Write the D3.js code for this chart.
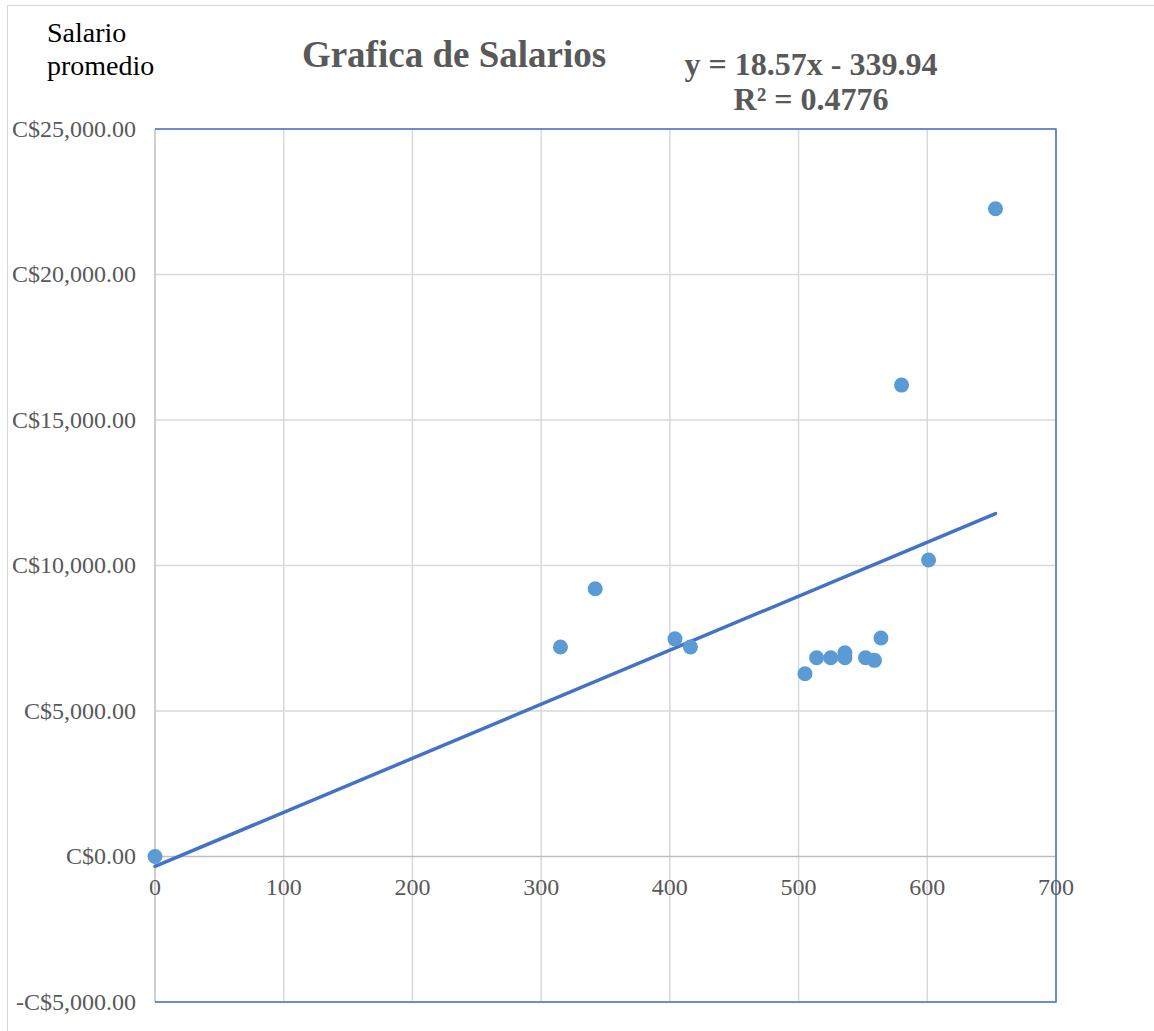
<!DOCTYPE html>
<html>
<head>
<meta charset="utf-8">
<script src="https://cdn.jsdelivr.net/npm/d3@7"></script>
<style>
  body { margin: 0; background: #fff; }
</style>
</head>
<body>
<script>
const width = 1154;
const height = 1031;
const serif = '"Liberation Serif", "Times New Roman", serif';

// horas (x) vs salario promedio (y)
const horas = [0, 315, 342, 404, 416, 505, 514, 525, 536, 536, 552, 559, 564, 580, 601, 653];
const salarios = [0, 7200, 9200, 7480, 7200, 6280, 6830, 6830, 7000, 6830, 6830, 6740, 7510, 16200, 10190, 22260];
const xTicks = [0, 100, 200, 300, 400, 500, 600, 700];
const yTicks = [-5000, 0, 5000, 10000, 15000, 20000, 25000];
const slope = 18.57;
const intercept = -339.94;

const margin = {left: 155, right: 98, top: 129, bottom: 29};

const svg = d3.select('body')
              .append('svg')
              .attr('width', width)
              .attr('height', height)
              .attr('font-family', serif);

// outer chart border
svg.append('rect')
   .attr('x', 7.5).attr('y', 5.5)
   .attr('width', width).attr('height', height)
   .attr('fill', 'none')
   .attr('stroke', '#d9d9d9');

const x = d3.scaleLinear()
            .domain([0, 700])
            .range([margin.left, width - margin.right]);

const y = d3.scaleLinear()
            .domain([-5000, 25000])
            .range([height - margin.bottom, margin.top]);

// gridlines
svg.append('g')
   .selectAll('line')
   .data(xTicks.slice(1))
   .join('line')
   .attr('x1', d => x(d)).attr('x2', d => x(d))
   .attr('y1', y(25000)).attr('y2', y(-5000))
   .attr('stroke', '#d9d9d9').attr('stroke-width', 1.5);

svg.append('g')
   .selectAll('line')
   .data(yTicks.filter(d => d !== 0))
   .join('line')
   .attr('x1', x(0)).attr('x2', x(700))
   .attr('y1', d => y(d)).attr('y2', d => y(d))
   .attr('stroke', '#d9d9d9').attr('stroke-width', 1.5);

// axes lines
svg.append('line')
   .attr('x1', x(0)).attr('x2', x(700))
   .attr('y1', y(0)).attr('y2', y(0))
   .attr('stroke', '#bfbfbf').attr('stroke-width', 1.5);
svg.append('line')
   .attr('x1', x(0)).attr('x2', x(0))
   .attr('y1', y(25000)).attr('y2', y(-5000))
   .attr('stroke', '#bfbfbf').attr('stroke-width', 1.5);

// plot area border (top, right, bottom)
svg.append('path')
   .attr('d', `M${x(0)},${y(25000)}H${x(700)}V${y(-5000)}H${x(0)}`)
   .attr('fill', 'none')
   .attr('stroke', '#4472c4')
   .attr('stroke-width', 1.5);

// tick labels
const fmt = d => (d < 0 ? '-' : '') + 'C$' + d3.format(',.2f')(Math.abs(d));

svg.append('g')
   .selectAll('text')
   .data(yTicks)
   .join('text')
   .attr('x', 136)
   .attr('y', d => y(d))
   .attr('dy', '0.33em')
   .attr('text-anchor', 'end')
   .attr('font-size', 24)
   .attr('fill', '#595959')
   .text(fmt);

svg.append('g')
   .selectAll('text')
   .data(xTicks)
   .join('text')
   .attr('x', d => x(d))
   .attr('y', y(0) + 38)
   .attr('text-anchor', 'middle')
   .attr('font-size', 24)
   .attr('fill', '#595959')
   .text(d => d);

// trend line
const xMax = d3.max(horas);
svg.append('line')
   .attr('x1', x(0)).attr('y1', y(intercept))
   .attr('x2', x(xMax)).attr('y2', y(slope * xMax + intercept))
   .attr('stroke', '#4472c4')
   .attr('stroke-width', 3.5)
   .attr('stroke-linecap', 'round');

// points
svg.append('g')
   .selectAll('circle')
   .data(horas.map((h, i) => ({h: h, s: salarios[i]})))
   .join('circle')
   .attr('cx', d => x(d.h))
   .attr('cy', d => y(d.s))
   .attr('r', 7.5)
   .attr('fill', '#5b9bd5');

// titles
svg.append('text')
   .attr('x', 454).attr('y', 67)
   .attr('text-anchor', 'middle')
   .attr('font-size', 37)
   .attr('font-weight', 'bold')
   .attr('fill', '#595959')
   .text('Grafica de Salarios');

svg.append('text')
   .attr('x', 47).attr('y', 42)
   .attr('font-size', 28)
   .attr('fill', '#000')
   .text('Salario');
svg.append('text')
   .attr('x', 47).attr('y', 75)
   .attr('font-size', 28)
   .attr('fill', '#000')
   .text('promedio');

svg.append('text')
   .attr('x', 811).attr('y', 75)
   .attr('text-anchor', 'middle')
   .attr('font-size', 32)
   .attr('font-weight', 'bold')
   .attr('fill', '#595959')
   .text(`y = ${slope}x - ${Math.abs(intercept)}`);
svg.append('text')
   .attr('x', 811).attr('y', 110)
   .attr('text-anchor', 'middle')
   .attr('font-size', 32)
   .attr('font-weight', 'bold')
   .attr('fill', '#595959')
   .text('R² = 0.4776');
</script>
</body>
</html>
